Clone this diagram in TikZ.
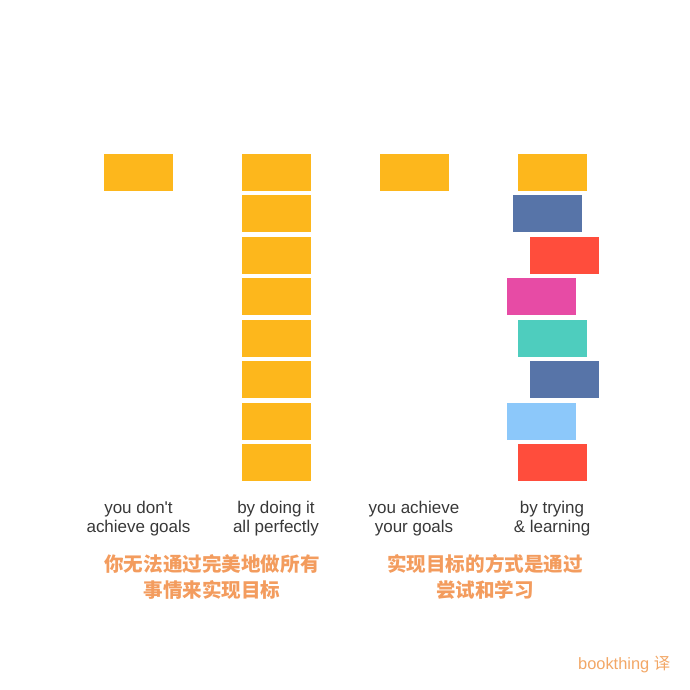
\documentclass[tikz,border=0pt]{standalone}
\usepackage{fontspec}
\setmainfont{Liberation Sans}
\newfontfamily\cjk{Noto Sans CJK SC}
\usetikzlibrary{positioning}
\definecolor{Gold}{HTML}{FDB71C}
\definecolor{Slate}{HTML}{5774A8}
\definecolor{Coral}{HTML}{FF4D3C}
\definecolor{Berry}{HTML}{E74BA5}
\definecolor{Mint}{HTML}{4ECDBE}
\definecolor{Sky}{HTML}{8CC8FA}
\definecolor{Ink}{HTML}{383838}
\definecolor{Peach}{HTML}{F39C5E}
\definecolor{Sand}{HTML}{F2A766}
\tikzset{
  brick/.style={minimum width=2.07cm,minimum height=1.11cm,inner sep=0pt},
  caption/.style={align=center,anchor=north,inner sep=0pt,text=Ink,
    font=\fontsize{14.5}{16.2}\selectfont},
  motto/.style={align=center,anchor=north,inner sep=0pt,text=Peach,
    font=\cjk\bfseries\fontsize{16.7}{22.2}\selectfont}
}

\begin{document}
\begin{tikzpicture}[x=.03cm,y=-.03cm]
    \useasboundingbox (0,0) rectangle (690,690);
    % single block and the tall perfect stack
    \node[brick,fill=Gold] (once) at (138.5,172) {};
    \foreach \i in {0,...,7}
      \node[brick,fill=Gold] (perfect\i) at (276.5,172+41.57*\i) {};
    % single block and the wobbly stack
    \node[brick,fill=Gold] (goal) at (414.5,172) {};
    \foreach \dx/\c [count=\i from 0] in {552.5/Gold,547.5/Slate,564.5/Coral,541.5/Berry,552.5/Mint,564.5/Slate,541.5/Sky,552.5/Coral}
      \node[brick,fill=\c] (try\i) at (\dx,172+41.57*\i) {};
    % captions
    \node[caption] (fail) at (138.5,500.5) {you don\textquotesingle t\\achieve goals};
    \node[caption] (perfect) at (276,500.5) {by doing it\\all perfectly};
    \node[caption] (win) at (414,500.5) {you achieve\\your goals};
    \node[caption] (learn) at (552,500.5) {by trying\\\& learning};
    \node[motto] (left) at (212,554.5) {你无法通过完美地做所有\\事情来实现目标};
    \node[motto] (right) at (485,554.5) {实现目标的方式是通过\\尝试和学习};
    \node[anchor=base east,inner sep=0pt,text=Sand,font=\fontsize{14}{16}\selectfont] (credit) at (670.5,669.5) {bookthing {\cjk 译}};
  \end{tikzpicture}
\end{document}
